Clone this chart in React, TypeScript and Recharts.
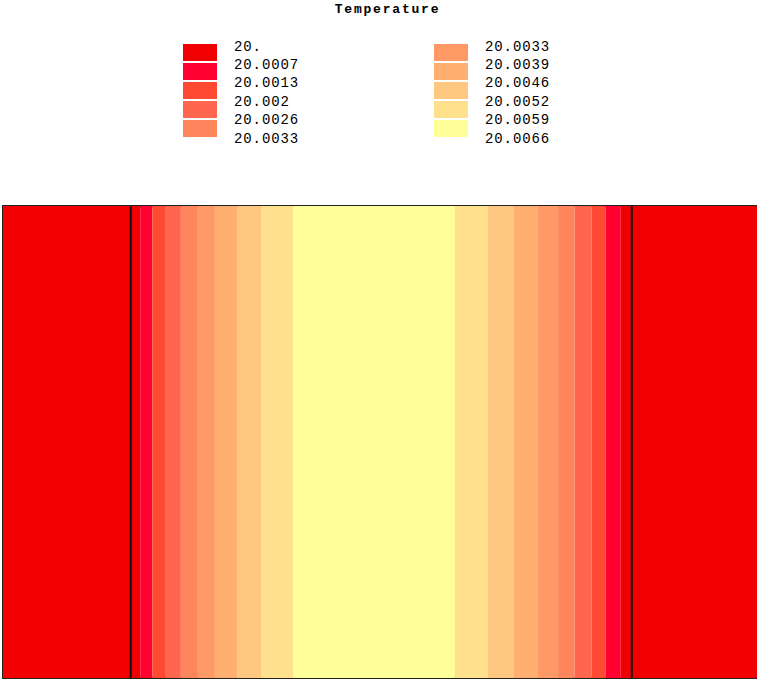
import React from 'react';
import { BarChart, Bar, XAxis, YAxis, ReferenceLine, ReferenceArea } from 'recharts';

// legend levels (label at each colour boundary)
const levelLabels = [
  '20.', '20.0007', '20.0013', '20.002', '20.0026', '20.0033',
  '20.0039', '20.0046', '20.0052', '20.0059', '20.0066',
];
const levelColors = [
  '#F00000', '#FF0030', '#FF4A33', '#FF6650', '#FF855C',
  '#FF9A66', '#FFB070', '#FFC880', '#FFE08C', '#FFFF99',
];

// band edges across the plate (middle section spans 0.255..1.255)
const bandEdges = [
  0, 0.255, 0.274, 0.298, 0.325, 0.355, 0.389, 0.423, 0.467, 0.515, 0.579,
  0.902, 0.968, 1.02, 1.068, 1.108, 1.141, 1.175, 1.203, 1.233, 1.255, 1.513,
];
const bandLevels = [0, 0, 1, 2, 3, 4, 5, 6, 7, 8, 9, 8, 7, 6, 5, 4, 3, 2, 1, 0, 0];
const interfaces = [0.255, 1.255];

const row: Record<string, number | string> = { name: 'plate' };
bandLevels.forEach((_, i) => {
  row[`b${i}`] = bandEdges[i + 1] - bandEdges[i];
});
const data = [row];

const mono = '"Liberation Mono", "DejaVu Sans Mono", monospace';

const LegendColumn: React.FC<{ start: number; left: number }> = ({ start, left }) => (
  <div style={{ position: 'absolute', left, top: 44 }}>
    {levelColors.slice(start, start + 5).map((c, i) => (
      <div
        key={c}
        style={{ position: 'absolute', left: 0, top: i * 19.1, width: 34, height: 17, background: c }}
      />
    ))}
    {levelLabels.slice(start, start + 6).map((l, i) => (
      <div
        key={l + i}
        style={{
          position: 'absolute',
          left: 51,
          top: i * 18.4 - 5.5,
          fontFamily: mono,
          fontSize: 14,
          letterSpacing: 0.9,
          lineHeight: '16px',
          color: '#000',
          whiteSpace: 'nowrap',
        }}
      >
        {l}
      </div>
    ))}
  </div>
);

const App: React.FC = () => {
  return (
    <div style={{ position: 'absolute', left: 0, top: 0, width: 757, height: 680, overflow: 'hidden', background: '#fff' }}>
      <div
        style={{
          position: 'absolute',
          left: 0,
          width: 775,
          top: 3,
          textAlign: 'center',
          fontFamily: mono,
          fontSize: 13,
          fontWeight: 'bold',
          letterSpacing: 1.8,
          lineHeight: '14px',
        }}
      >
        Temperature
      </div>
      <LegendColumn start={0} left={183} />
      <LegendColumn start={5} left={434} />
      <div style={{ position: 'absolute', left: 0, top: 0 }}>
        <BarChart
          width={761}
          height={680}
          data={data}
          layout="vertical"
          barCategoryGap={0}
          margin={{ top: 206, right: 0, left: 3, bottom: 2 }}
        >
          <XAxis type="number" domain={[0, bandEdges[bandEdges.length - 1]]} hide allowDataOverflow />
          <YAxis type="category" dataKey="name" hide />
          {bandLevels.map((lv, i) => (
            <Bar
              key={i}
              dataKey={`b${i}`}
              stackId="t"
              fill={levelColors[lv]}
              isAnimationActive={false}
            />
          ))}
          {interfaces.map((x) => (
            <ReferenceLine key={x} x={x} stroke="#111" strokeWidth={2} />
          ))}
          <ReferenceArea
            x1={0}
            x2={bandEdges[bandEdges.length - 1]}
            fill="none"
            stroke="#222"
            strokeWidth={2}
            ifOverflow="visible"
          />
        </BarChart>
      </div>
    </div>
  );
};

export default App;
